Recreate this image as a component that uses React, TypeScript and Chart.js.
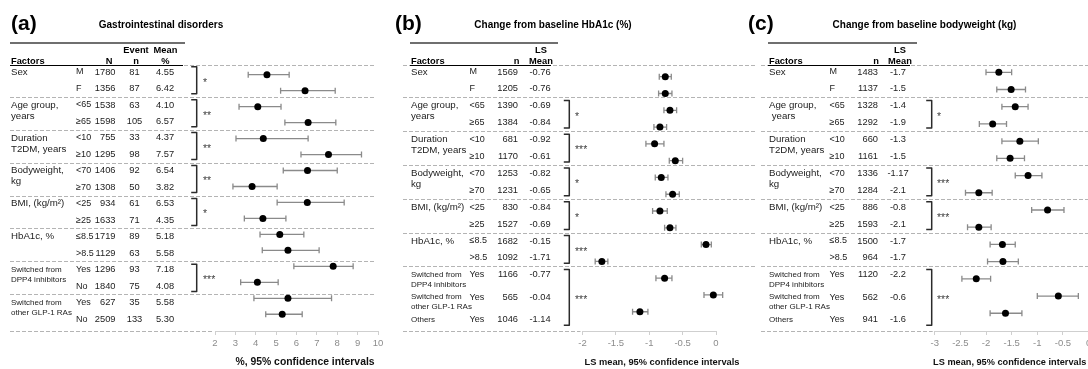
import { useEffect, useRef } from "react";
import { Chart, registerables } from "chart.js";

Chart.register(...registerables);

const SANS = '"Liberation Sans", Arial, Helvetica, sans-serif';
const NARROW = '"Liberation Sans Narrow", "Liberation Sans", Arial, sans-serif';
const W = 1100;
const H = 369;
const CHART_TOP = 43;
const CHART_BOTTOM = 331;

// ---------------- Panel (a): Gastrointestinal disorders ----------------
const factorsA = ["Sex", "", "Age group,\nyears", "", "Duration\nT2DM, years", "", "Bodyweight,\nkg", "", "BMI, (kg/m²)", "", "HbA1c, %", "", "Switched from\nDPP4 inhibitors", "", "Switched from\nother GLP-1 RAs", ""];
const levelsA = ["M", "F", "<65", "≥65", "<10", "≥10", "<70", "≥70", "<25", "≥25", "≤8.5", ">8.5", "Yes", "No", "Yes", "No"];
const totalNA = [1780, 1356, 1538, 1598, 755, 1295, 1406, 1308, 934, 1633, 1719, 1129, 1296, 1840, 627, 2509];
const eventsA = [81, 87, 63, 105, 33, 98, 92, 50, 61, 71, 89, 63, 93, 75, 35, 133];
const meanTextA = ["4.55", "6.42", "4.10", "6.57", "4.37", "7.57", "6.54", "3.82", "6.53", "4.35", "5.18", "5.58", "7.18", "4.08", "5.58", "5.30"];
const pointA = [4.55, 6.42, 4.10, 6.57, 4.37, 7.57, 6.54, 3.82, 6.53, 4.35, 5.18, 5.58, 7.8, 4.08, 5.58, 5.30];
const lowerA = [3.63, 5.22, 3.18, 5.43, 3.03, 6.22, 5.35, 2.88, 5.05, 3.44, 4.21, 4.32, 5.87, 3.26, 3.91, 4.49];
const upperA = [5.64, 7.90, 5.24, 7.93, 6.57, 9.19, 8.00, 5.05, 8.34, 5.48, 6.36, 7.11, 8.78, 5.10, 7.72, 6.28];
const groupSizesA = [2, 2, 2, 2, 2, 2, 2, 2];
const sigA = ["*", "**", "**", "**", "*", "", "***", ""];
const ticksA = [2, 3, 4, 5, 6, 7, 8, 9, 10];
const tickLabelsA = ["2", "3", "4", "5", "6", "7", "8", "9", "10"];

// ---------------- Panel (b): Change from baseline HbA1c ----------------
const factorsB = ["Sex", "", "Age group,\nyears", "", "Duration\nT2DM, years", "", "Bodyweight,\nkg", "", "BMI, (kg/m²)", "", "HbA1c, %", "", "Switched from\nDPP4 inhibitors", "Switched from\nother GLP-1 RAs", "Others"];
const levelsB = ["M", "F", "<65", "≥65", "<10", "≥10", "<70", "≥70", "<25", "≥25", "≤8.5", ">8.5", "Yes", "Yes", "Yes"];
const nB = [1569, 1205, 1390, 1384, 681, 1170, 1253, 1231, 830, 1527, 1682, 1092, 1166, 565, 1046];
const meanTextB = ["-0.76", "-0.76", "-0.69", "-0.84", "-0.92", "-0.61", "-0.82", "-0.65", "-0.84", "-0.69", "-0.15", "-1.71", "-0.77", "-0.04", "-1.14"];
const pointB = [-0.76, -0.76, -0.69, -0.84, -0.92, -0.61, -0.82, -0.65, -0.84, -0.69, -0.15, -1.71, -0.77, -0.04, -1.14];
const lowerB = [-0.85, -0.86, -0.78, -0.93, -1.05, -0.70, -0.91, -0.75, -0.95, -0.77, -0.22, -1.81, -0.90, -0.18, -1.25];
const upperB = [-0.67, -0.66, -0.59, -0.74, -0.78, -0.50, -0.72, -0.55, -0.73, -0.60, -0.07, -1.62, -0.66, 0.10, -1.02];
const groupSizesB = [2, 2, 2, 2, 2, 2, 3];
const sigB = ["", "*", "***", "*", "*", "***", "***"];
const ticksB = [-2, -1.5, -1, -0.5, 0];
const tickLabelsB = ["-2", "-1.5", "-1", "-0.5", "0"];

// ---------------- Panel (c): Change from baseline bodyweight ----------------
const factorsC = ["Sex", "", "Age group,\n years", "", "Duration\nT2DM, years", "", "Bodyweight,\nkg", "", "BMI, (kg/m²)", "", "HbA1c, %", "", "Switched from\nDPP4 inhibitors", "Switched from\nother GLP-1 RAs", "Others"];
const levelsC = ["M", "F", "<65", "≥65", "<10", "≥10", "<70", "≥70", "<25", "≥25", "≤8.5", ">8.5", "Yes", "Yes", "Yes"];
const nC = [1483, 1137, 1328, 1292, 660, 1161, 1336, 1284, 886, 1593, 1500, 964, 1120, 562, 941];
const meanTextC = ["-1.7", "-1.5", "-1.4", "-1.9", "-1.3", "-1.5", "-1.17", "-2.1", "-0.8", "-2.1", "-1.7", "-1.7", "-2.2", "-0.6", "-1.6"];
const pointC = [-1.75, -1.51, -1.43, -1.87, -1.34, -1.53, -1.18, -2.14, -0.80, -2.14, -1.68, -1.67, -2.19, -0.59, -1.62];
const lowerC = [-2.00, -1.79, -1.69, -2.13, -1.69, -1.79, -1.43, -2.40, -1.11, -2.36, -1.92, -1.97, -2.47, -1.00, -1.92];
const upperC = [-1.50, -1.23, -1.18, -1.60, -0.98, -1.25, -0.91, -1.88, -0.48, -1.90, -1.43, -1.37, -1.91, -0.20, -1.30];
const groupSizesC = [2, 2, 2, 2, 2, 2, 3];
const sigC = ["", "*", "", "***", "***", "", "***"];
const ticksC = [-3, -2.5, -2, -1.5, -1, -0.5, 0];
const tickLabelsC = ["-3", "-2.5", "-2", "-1.5", "-1", "-0.5", "0"];

type Column = { top: string; bottom: string; hx: number; x: number; align: CanvasTextAlign; narrow: boolean; values: string[] };
type Layout = {
  tagX: number; titleX: number; tableL: number; thickR: number; underR: number;
  factorX: number; subX: number; dashL: number; dashR: number; bracketX: number; starX: number;
  chartL: number; chartR: number; axisTitleX: number; axisTitleSize: number;
  dotRow0: number; dotPitch: number; textRow0: number; textPitch: number;
};
type Panel = {
  tag: string; title: string; axisTitle: string;
  factors: string[]; levels: string[]; columns: Column[];
  groupSizes: number[]; sig: string[];
  point: number[]; lower: number[]; upper: number[];
  xMin: number; xMax: number; ticks: number[]; tickLabels: string[];
  layout: Layout;
};

const panels: Panel[] = [
  {
    tag: "(a)", title: "Gastrointestinal disorders", axisTitle: "%, 95% confidence intervals",
    factors: factorsA, levels: levelsA,
    columns: [
      { top: "", bottom: "N", hx: 109, x: 115.5, align: "right", narrow: true, values: totalNA.map(String) },
      { top: "Event", bottom: "n", hx: 136, x: 134.5, align: "center", narrow: true, values: eventsA.map(String) },
      { top: "Mean", bottom: "%", hx: 165.5, x: 165, align: "center", narrow: true, values: meanTextA },
    ],
    groupSizes: groupSizesA, sig: sigA, point: pointA, lower: lowerA, upper: upperA,
    xMin: 2, xMax: 10, ticks: ticksA, tickLabels: tickLabelsA,
    layout: {
      tagX: 11, titleX: 161, tableL: 10, thickR: 185, underR: 183, factorX: 11, subX: 76,
      dashL: 10, dashR: 374, bracketX: 196.7, starX: 203, chartL: 215, chartR: 378, axisTitleX: 305, axisTitleSize: 10.4,
      dotRow0: 74.7, dotPitch: 15.97, textRow0: 72, textPitch: 16.47,
    },
  },
  {
    tag: "(b)", title: "Change from baseline HbA1c (%)", axisTitle: "LS mean, 95% confidence intervals",
    factors: factorsB, levels: levelsB,
    columns: [
      { top: "", bottom: "n", hx: 516.5, x: 518, align: "right", narrow: true, values: nB.map(String) },
      { top: "LS", bottom: "Mean", hx: 541, x: 540, align: "center", narrow: false, values: meanTextB },
    ],
    groupSizes: groupSizesB, sig: sigB, point: pointB, lower: lowerB, upper: upperB,
    xMin: -2, xMax: 0, ticks: ticksB, tickLabels: tickLabelsB,
    layout: {
      tagX: 395, titleX: 553, tableL: 410, thickR: 558, underR: 551, factorX: 411, subX: 469.5,
      dashL: 403, dashR: 757, bracketX: 569.3, starX: 575, chartL: 582.5, chartR: 716, axisTitleX: 662, axisTitleSize: 9.3,
      dotRow0: 76.7, dotPitch: 16.79, textRow0: 72, textPitch: 16.9,
    },
  },
  {
    tag: "(c)", title: "Change from baseline bodyweight (kg)", axisTitle: "LS mean, 95% confidence intervals",
    factors: factorsC, levels: levelsC,
    columns: [
      { top: "", bottom: "n", hx: 876, x: 878, align: "right", narrow: true, values: nC.map(String) },
      { top: "LS", bottom: "Mean", hx: 900, x: 898, align: "center", narrow: false, values: meanTextC },
    ],
    groupSizes: groupSizesC, sig: sigC, point: pointC, lower: lowerC, upper: upperC,
    xMin: -3, xMax: 0, ticks: ticksC, tickLabels: tickLabelsC,
    layout: {
      tagX: 748, titleX: 924.5, tableL: 768, thickR: 917, underR: 910, factorX: 769, subX: 829.5,
      dashL: 761, dashR: 1088, bracketX: 931.7, starX: 937, chartL: 934.7, chartR: 1088.6, axisTitleX: 1009.7, axisTitleSize: 9.2,
      dotRow0: 72.3, dotPitch: 17.21, textRow0: 72, textPitch: 16.9,
    },
  },
];

function textPositions(factors: string[]): number[] {
  const out: number[] = [];
  let extra = 0;
  factors.forEach((lab, i) => {
    out.push(i + extra);
    if (lab.includes("\n") && i + 1 < factors.length && factors[i + 1] !== "") extra += 0.33;
  });
  return out;
}

function hline(ctx: CanvasRenderingContext2D, x1: number, x2: number, y: number) {
  ctx.beginPath();
  ctx.moveTo(x1, y);
  ctx.lineTo(x2, y);
  ctx.stroke();
}

function drawPanel(chart: any, p: Panel) {
  const ctx: CanvasRenderingContext2D = chart.ctx;
  const L = p.layout;
  const xs = chart.scales.x;
  const ys = chart.scales.y;
  const yt = chart.scales.yt;
  const area = chart.chartArea;
  const tp = textPositions(p.factors);
  const T = (v: number) => yt.getPixelForValue(v);
  const crisp = (y: number) => Math.round(y) + 0.5;

  ctx.save();
  ctx.textBaseline = "middle";

  // panel tag and title
  ctx.fillStyle = "#000";
  ctx.textAlign = "left";
  ctx.font = `bold 21px ${SANS}`;
  ctx.fillText(p.tag, L.tagX, 24);
  ctx.textAlign = "center";
  ctx.font = `bold 10px ${SANS}`;
  ctx.fillText(p.title, L.titleX, 25);

  // thick top rule
  ctx.strokeStyle = "#6f6f6f";
  ctx.lineWidth = 2;
  hline(ctx, L.tableL, L.thickR, 43);

  // dashed separators
  ctx.strokeStyle = "#b4b4b4";
  ctx.lineWidth = 1;
  ctx.setLineDash([4, 2]);
  hline(ctx, L.dashL, L.dashR, 65.5);
  let start = 0;
  const groups: { first: number; last: number }[] = [];
  p.groupSizes.forEach((g) => {
    groups.push({ first: start, last: start + g - 1 });
    start += g;
  });
  groups.forEach((g, gi) => {
    if (gi < groups.length - 1) {
      const v = (tp[g.last] + tp[groups[gi + 1].first]) / 2;
      hline(ctx, L.dashL, L.dashR, crisp(T(v)));
    }
  });
  hline(ctx, L.dashL, area.left - 2, crisp(area.bottom - 0.5));
  ctx.setLineDash([]);

  // header underline
  ctx.strokeStyle = "#000";
  ctx.lineWidth = 1;
  hline(ctx, L.tableL, L.underR, 65.5);

  // header text
  ctx.fillStyle = "#000";
  ctx.font = `bold 9.3px ${SANS}`;
  ctx.textAlign = "left";
  ctx.fillText("Factors", L.factorX, 61);
  ctx.textAlign = "center";
  p.columns.forEach((c) => {
    if (c.top) ctx.fillText(c.top, c.hx, 50);
    ctx.fillText(c.bottom, c.hx, 61);
  });

  // table body
  ctx.fillStyle = "#222";
  p.factors.forEach((lab, i) => {
    const y = T(tp[i]);
    if (lab) {
      const small = lab.startsWith("Switched") || lab === "Others";
      ctx.font = `${small ? 8 : 9.7}px ${SANS}`;
      ctx.textAlign = "left";
      lab.split("\n").forEach((line, li) => {
        ctx.fillText(line, L.factorX, y + li * (small ? 9.8 : 11));
      });
    }
    ctx.font = `9px ${SANS}`;
    ctx.textAlign = "left";
    ctx.fillText(p.levels[i], L.subX, y);
    p.columns.forEach((c) => {
      ctx.font = `9.3px ${c.narrow ? NARROW : SANS}`;
      ctx.textAlign = c.align;
      ctx.fillText(c.values[i], c.x, y);
    });
  });

  // significance brackets
  groups.forEach((g, gi) => {
    const s = p.sig[gi];
    if (!s) return;
    const top = T(tp[g.first] - 0.32);
    const bot = T(tp[g.last] + 0.32);
    ctx.strokeStyle = "#2b2b2b";
    ctx.lineWidth = 1.5;
    ctx.lineJoin = "round";
    ctx.beginPath();
    ctx.moveTo(L.bracketX - 5.5, top);
    ctx.lineTo(L.bracketX, top);
    ctx.lineTo(L.bracketX, bot);
    ctx.lineTo(L.bracketX - 5.5, bot);
    ctx.stroke();
    ctx.fillStyle = "#444";
    ctx.font = `10.5px ${SANS}`;
    ctx.textAlign = "left";
    ctx.fillText(s, L.starX, (top + bot) / 2 + 2.5);
  });

  // confidence intervals
  ctx.strokeStyle = "#8a8a8a";
  ctx.lineWidth = 1.3;
  p.point.forEach((_, i) => {
    const y = ys.getPixelForValue(i);
    const x1 = xs.getPixelForValue(p.lower[i]);
    const x2 = xs.getPixelForValue(p.upper[i]);
    ctx.beginPath();
    ctx.moveTo(x1, y);
    ctx.lineTo(x2, y);
    ctx.moveTo(x1, y - 3);
    ctx.lineTo(x1, y + 3);
    ctx.moveTo(x2, y - 3);
    ctx.lineTo(x2, y + 3);
    ctx.stroke();
  });

  // axis title
  ctx.fillStyle = "#111";
  ctx.font = `bold ${L.axisTitleSize}px ${SANS}`;
  ctx.textAlign = "center";
  ctx.fillText(p.axisTitle, L.axisTitleX, 362.5);

  ctx.restore();
}

function makeConfig(p: Panel): any {
  const L = p.layout;
  const yMin = -(L.dotRow0 - CHART_TOP) / L.dotPitch;
  const yMax = yMin + (CHART_BOTTOM - CHART_TOP) / L.dotPitch;
  const tMin = -(L.textRow0 - CHART_TOP) / L.textPitch;
  const tMax = tMin + (CHART_BOTTOM - CHART_TOP) / L.textPitch;
  return {
    type: "scatter",
    data: {
      datasets: [
        {
          data: p.point.map((v, i) => ({ x: v, y: i })),
          pointRadius: 3.5,
          pointHoverRadius: 3.5,
          pointBackgroundColor: "#000",
          pointBorderColor: "#000",
          pointBorderWidth: 0,
          clip: false,
        },
      ],
    },
    options: {
      responsive: false,
      maintainAspectRatio: false,
      animation: false,
      devicePixelRatio: 1,
      events: [],
      layout: { padding: { left: L.chartL, right: W - L.chartR, top: CHART_TOP, bottom: 0 } },
      plugins: { legend: { display: false }, tooltip: { enabled: false }, title: { display: false } },
      scales: {
        x: {
          type: "linear",
          position: "bottom",
          min: p.xMin,
          max: p.xMax,
          afterFit: (s: any) => {
            s.height = H - CHART_BOTTOM;
          },
          afterBuildTicks: (s: any) => {
            s.ticks = p.ticks.map((v) => ({ value: v }));
          },
          ticks: {
            callback: (_v: any, i: number) => p.tickLabels[i],
            color: "#8c8c8c",
            font: { family: SANS, size: 9.5 },
            padding: 3,
            autoSkip: false,
            maxRotation: 0,
          },
          grid: { drawOnChartArea: false, drawTicks: true, tickLength: 4, color: "#cfcfcf" },
          border: { color: "#cfcfcf" },
        },
        y: { type: "linear", display: false, reverse: true, min: yMin, max: yMax },
        yt: { type: "linear", axis: "y", display: false, reverse: true, min: tMin, max: tMax },
      },
    },
    plugins: [{ id: "forestTable", beforeDatasetsDraw: (chart: any) => drawPanel(chart, p) }],
  };
}

export default function App() {
  const refA = useRef<HTMLCanvasElement>(null);
  const refB = useRef<HTMLCanvasElement>(null);
  const refC = useRef<HTMLCanvasElement>(null);

  useEffect(() => {
    const canvases = [refA.current, refB.current, refC.current];
    const charts = panels.map((p, i) => new Chart(canvases[i] as HTMLCanvasElement, makeConfig(p)));
    return () => charts.forEach((c) => c.destroy());
  }, []);

  const cs: React.CSSProperties = { position: "absolute", left: 0, top: 0, width: W, height: H };
  return (
    <div style={{ position: "fixed", left: 0, top: 0, width: 1088, height: 369, overflow: "hidden", background: "#fff" }}>
      <canvas ref={refA} width={W} height={H} style={cs} />
      <canvas ref={refB} width={W} height={H} style={cs} />
      <canvas ref={refC} width={W} height={H} style={cs} />
    </div>
  );
}
